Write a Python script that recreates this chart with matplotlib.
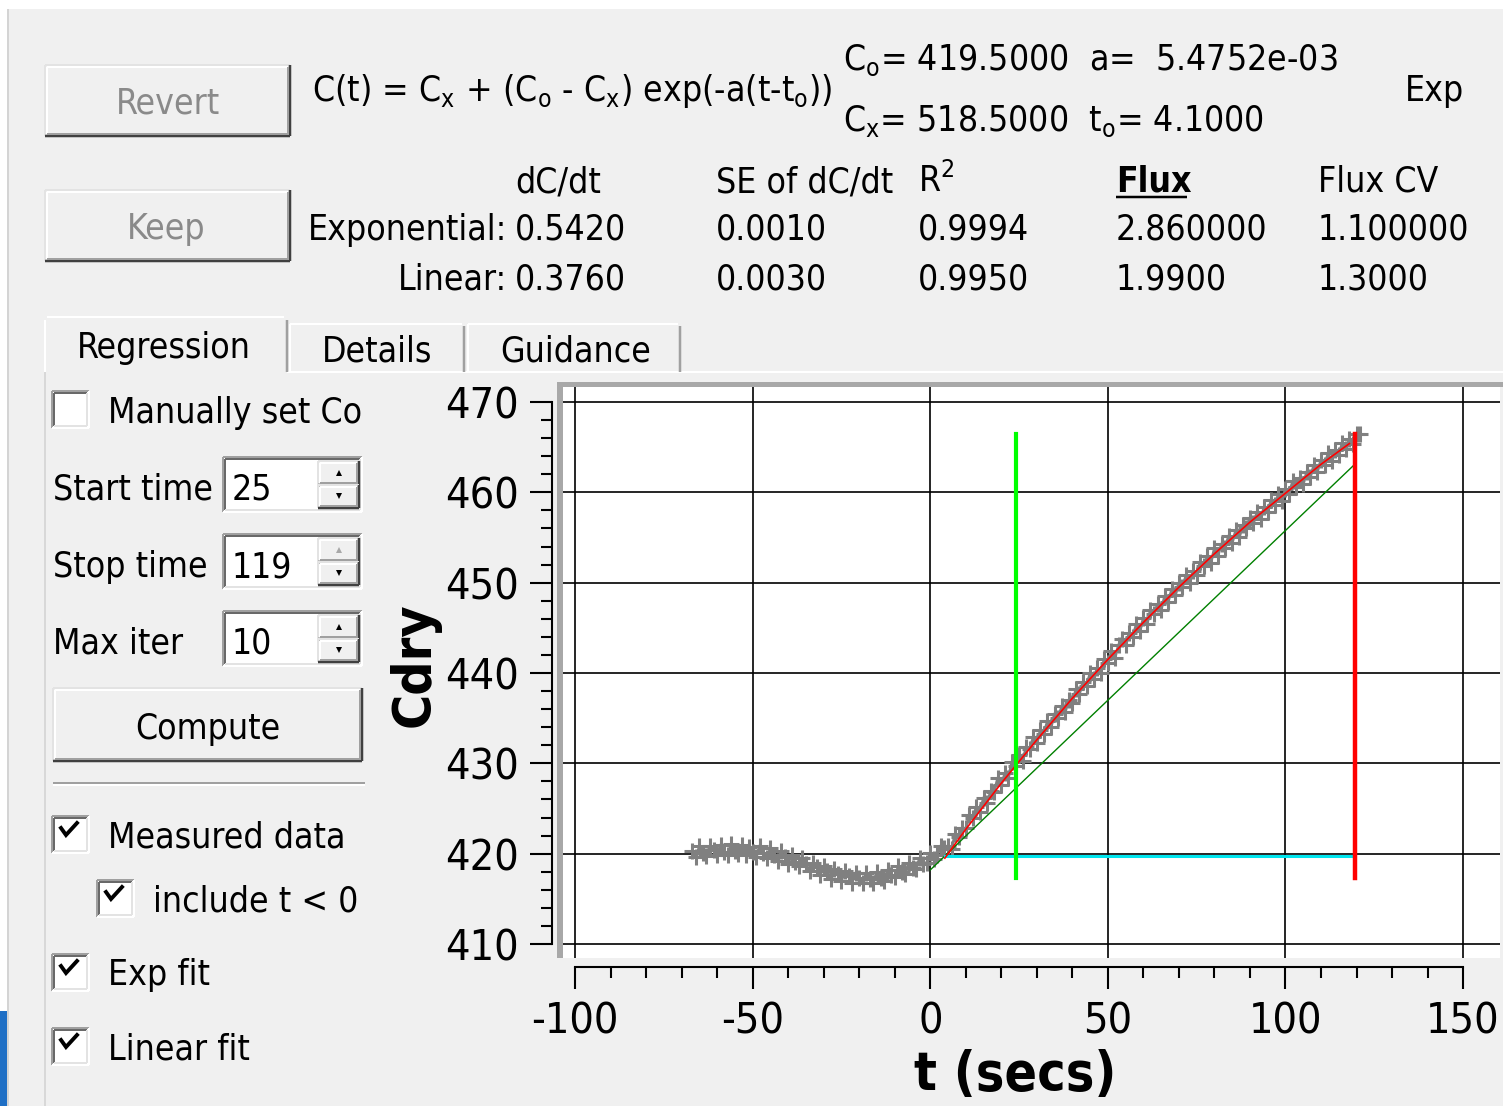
import numpy as np
import matplotlib
matplotlib.use('Agg')
import matplotlib.pyplot as plt
from matplotlib.patches import Rectangle, Polygon
from matplotlib.ticker import FixedLocator

plt.rcParams['font.family'] = ['DejaVu Sans']
plt.rcParams['font.stretch'] = 'condensed'
plt.rcParams['font.size'] = 25.5
plt.rcParams['mathtext.fontset'] = 'dejavusans'
plt.rcParams['axes.unicode_minus'] = False

# ---- chart data ----
# measured Cdry, one sample per second starting at t = -67 s
c_meas = [420.3, 419.6, 420.8, 420.1, 419.7, 420.9, 420.4, 419.8, 421.0, 420.2,
          419.9, 421.1, 420.3, 420.0, 421.0, 419.9, 420.7, 420.2, 419.6, 420.9,
          420.1, 419.5, 420.6, 419.9, 419.2, 420.3, 419.6, 418.9, 419.9, 419.1,
          418.6, 419.5, 418.9, 418.1, 419.0, 418.5, 417.6, 418.6, 418.1, 417.2,
          418.3, 417.8, 417.0, 418.1, 417.5, 416.8, 417.9, 417.3, 416.7, 417.9,
          417.2, 416.8, 418.0, 417.3, 417.0, 418.2, 417.6, 417.4, 418.6, 418.0,
          417.8, 419.0, 418.4, 418.3, 419.5, 418.9, 419.0,
          420.1, 419.4, 419.8, 420.9, 420.6,
          420.9, 420.5, 422.2, 421.8, 422.8, 422.8, 424.3, 424.0, 425.2, 424.6,
          426.2, 425.6, 426.9, 426.8, 428.4, 427.6, 428.9, 428.4, 430.2, 429.7,
          430.9, 430.3, 431.8, 431.6, 432.9, 432.2, 433.7, 433.3, 434.7, 434.0,
          435.5, 435.0, 436.3, 435.7, 437.0, 436.7, 438.2, 437.7, 439.0, 438.6,
          440.0, 439.3, 440.6, 440.0, 441.6, 441.1, 442.4, 441.7, 443.1, 443.8,
          443.1, 444.4, 444.0, 445.4, 444.6, 446.1, 445.4, 447.0, 446.5, 447.6,
          447.0, 448.5, 447.9, 449.3, 448.6, 450.0, 449.5, 450.8, 450.0, 451.3,
          450.9, 452.3, 451.8, 452.9, 452.2, 453.8, 453.0, 454.3, 453.8, 455.2,
          454.4, 455.8, 455.0, 456.4, 456.0, 457.2, 456.6, 457.8, 457.0, 458.4,
          457.8, 459.2, 458.6, 459.8, 459.0, 460.4, 459.8, 461.2, 460.6, 461.6,
          460.9, 462.3, 461.7, 463.0, 462.3, 463.6, 463.0, 464.3, 463.5, 464.7,
          464.1, 465.5, 464.8, 465.9, 465.3, 466.5, 466.5]
t_meas = np.arange(len(c_meas)) - 67

t_exp = [4.1, 10, 20, 30, 40, 50, 60, 70, 80, 90, 100, 110, 118]
c_exp = [419.5, 422.7, 427.8, 432.6, 437.2, 441.5, 445.6, 449.5, 453.2, 456.7,
         459.9, 463.1, 465.4]

t_lin = [0, 119.5]
c_lin = [418.2, 463.1]

t_base = [4.2, 119.6]
c_base = [419.75, 419.75]

t_start, t_stop = 24.2, 119.6
c_marker = [417.3, 466.5]

x_major = [-100, -50, 0, 50, 100, 150]
y_major = [410, 420, 430, 440, 450, 460, 470]

# ---- panel texts ----
col_heads = ['dC/dt', 'SE of dC/dt', 'R$^2$', 'Flux', 'Flux CV']
exp_row = ['0.5420', '0.0010', '0.9994', '2.860000', '1.100000']
lin_row = ['0.3760', '0.0030', '0.9950', '1.9900', '1.3000']
col_x = [515, 716, 918, 1116, 1318]
spin_labels = ['Start time', 'Stop time', 'Max iter']
spin_values = ['25', '119', '10']
check_labels = ['Measured data', 'include t < 0', 'Exp fit', 'Linear fit']

BG = '#f0f0f0'
W, H = 1503, 1106
fig = plt.figure(figsize=(W / 100, H / 100), dpi=100, facecolor=BG)
ui = fig.add_axes([0, 0, 1, 1], zorder=0)
ui.set_xlim(0, W)
ui.set_ylim(H, 0)
ui.axis('off')
ui.set_facecolor(BG)


def seg(x0, y0, x1, y1, c, w):
    ui.plot([x0, x1], [y0, y1], color=c, lw=w * 0.72, solid_capstyle='butt')


def raised(x0, y0, x1, y1):
    ui.add_patch(Rectangle((x0, y0), x1 - x0, y1 - y0, facecolor=BG, edgecolor='none'))
    seg(x0, y0, x1, y0, '#e3e3e3', 2)
    seg(x0, y0, x0, y1, '#e3e3e3', 2)
    seg(x0 + 2, y0 + 2, x1 - 2, y0 + 2, '#ffffff', 2)
    seg(x0 + 2, y0 + 2, x0 + 2, y1 - 2, '#ffffff', 2)
    seg(x0, y1, x1, y1, '#404040', 2.5)
    seg(x1, y0, x1, y1, '#404040', 2.5)
    seg(x0 + 2, y1 - 2, x1 - 2, y1 - 2, '#a0a0a0', 2)
    seg(x1 - 2, y0 + 2, x1 - 2, y1 - 2, '#a0a0a0', 2)


def sunken(x0, y0, x1, y1):
    ui.add_patch(Rectangle((x0, y0), x1 - x0, y1 - y0, facecolor='white', edgecolor='none'))
    seg(x0, y0, x1, y0, '#a0a0a0', 2)
    seg(x0, y0, x0, y1, '#a0a0a0', 2)
    seg(x0 + 2, y0 + 2, x1 - 2, y0 + 2, '#696969', 2)
    seg(x0 + 2, y0 + 2, x0 + 2, y1 - 2, '#696969', 2)
    seg(x0, y1, x1, y1, '#ffffff', 2)
    seg(x1, y0, x1, y1, '#ffffff', 2)
    seg(x0 + 2, y1 - 2, x1 - 2, y1 - 2, '#e3e3e3', 2)
    seg(x1 - 2, y0 + 2, x1 - 2, y1 - 2, '#e3e3e3', 2)


def checkbox(x0, y0, checked):
    sunken(x0, y0, x0 + 37, y0 + 37)
    if checked:
        ui.plot([x0 + 9, x0 + 14, x0 + 25], [y0 + 12, y0 + 19, y0 + 7],
                color='black', lw=2.8, solid_joinstyle='miter')


# window edges
ui.add_patch(Rectangle((0, 0), W, 9, facecolor='white', edgecolor='none'))
ui.add_patch(Rectangle((0, 0), 7, H, facecolor='white', edgecolor='none'))
seg(8, 9, 8, H, '#d4d4d4', 2)
ui.add_patch(Rectangle((0, 1011), 7, H - 1011, facecolor='#1f6fc5', edgecolor='none'))

# top buttons and fit summary
raised(45, 65, 290, 136)
raised(45, 190, 290, 261)
ui.text(168, 114, 'Revert', ha='center', va='baseline', color='#8a8a8a')
ui.text(166, 239, 'Keep', ha='center', va='baseline', color='#8a8a8a')
ui.text(312, 101, r'C(t) = C$_\mathrm{x}$ + (C$_\mathrm{o}$ - C$_\mathrm{x}$) exp(-a(t-t$_\mathrm{o}$))',
        va='baseline')
ui.text(843, 70, r'C$_\mathrm{o}$= 419.5000  a=  5.4752e-03', va='baseline')
ui.text(843, 131, r'C$_\mathrm{x}$= 518.5000  t$_\mathrm{o}$= 4.1000', va='baseline')
ui.text(1405, 101, 'Exp', va='baseline')

for x, head in zip(col_x, col_heads):
    bold = 'bold' if head == 'Flux' else 'normal'
    ui.text(x, 192, head, va='baseline', fontweight=bold)
seg(col_x[3], 197, col_x[3] + 71, 197, 'black', 2.5)
ui.text(507, 240, 'Exponential:', ha='right', va='baseline')
ui.text(507, 289, 'Linear:', ha='right', va='baseline')
for x, v1, v2 in zip(col_x, exp_row, lin_row):
    ui.text(x, 240, v1, va='baseline')
    ui.text(x, 289, v2, va='baseline')

# tabs
seg(287, 372, W, 372, '#ffffff', 2)
seg(45, 372, 45, H, '#d8d8d8', 2)
for x0, x1, top in [(290, 464, 324), (468, 680, 324)]:
    seg(x0, top, x1 - 2, top, '#ffffff', 2)
    seg(x0, top, x0, 372, '#ffffff', 2)
    seg(x1, top + 2, x1, 372, '#a0a0a0', 2.5)
ui.add_patch(Polygon([(45, 372), (45, 320), (48, 317), (284, 317), (287, 320), (287, 372)],
                     closed=True, facecolor=BG, edgecolor='none'))
seg(45, 320, 45, 372, '#ffffff', 2)
seg(47, 317, 284, 317, '#ffffff', 2)
seg(287, 320, 287, 372, '#a0a0a0', 2.5)
ui.text(164, 358, 'Regression', ha='center', va='baseline')
ui.text(377, 361, 'Details', ha='center', va='baseline')
ui.text(576, 361, 'Guidance', ha='center', va='baseline')

# left controls
checkbox(52, 391, False)
ui.text(108, 423, 'Manually set Co', va='baseline')
for i, (lab, val) in enumerate(zip(spin_labels, spin_values)):
    y0 = 457 + 77 * i
    y1 = y0 + 55
    ui.text(53, y0 + 43, lab, va='baseline')
    sunken(223, y0, 362, y1)
    ui.text(232, y0 + 43, val, va='baseline')
    ym = (y0 + y1) / 2
    raised(318, y0 + 4, 359, ym)
    raised(318, ym, 359, y1 - 4)
    up_col = '#a8a8a8' if val == '119' else 'black'
    ui.plot(338.5, (y0 + 4 + ym) / 2, marker='^', ms=4.5, color=up_col, mew=0)
    ui.plot(338.5, (ym + y1 - 4) / 2, marker='v', ms=4.5, color='black', mew=0)
raised(53, 688, 362, 761)
ui.text(208, 739, 'Compute', ha='center', va='baseline')
seg(53, 783, 365, 783, '#a0a0a0', 2)
seg(53, 785, 365, 785, '#ffffff', 2)
for (bx, by, tx), lab in zip([(52, 816, 108), (97, 880, 153), (52, 954, 108), (52, 1028, 108)],
                             check_labels):
    checkbox(bx, by, True)
    ui.text(tx, by + 31, lab, va='baseline')

# plot frame (sunken grey border)
ui.add_patch(Rectangle((557, 382), 6, 576, facecolor='#a8a8a8', edgecolor='none'))
ui.add_patch(Rectangle((557, 382), W - 557, 5, facecolor='#a8a8a8', edgecolor='none'))

# axis titles
ui.text(1015, 1075, 't (secs)', ha='center', va='center', fontsize=38.5, fontweight='bold')
ui.text(415, 665, 'Cdry', ha='center', va='center', fontsize=38.5, fontweight='bold',
        rotation=90)

# ---- the chart ----
ax = fig.add_axes([563 / W, 1 - 958 / H, 937 / W, 571 / H], zorder=1)
ax.set_facecolor('white')
ax.set_xlim(-103.4, 160.4)
ax.set_ylim(408.45, 471.66)

ax.plot(t_meas, c_meas, color='#808080', lw=2.0, marker='+', ms=11, mew=2.2, zorder=3)
ax.plot(t_lin, c_lin, color='#008000', lw=1.0, zorder=4)
ax.plot(t_exp, c_exp, color='red', lw=1.2, zorder=5)
ax.plot(t_base, c_base, color='#00e5ee', lw=2.2, zorder=4)
ax.plot([t_start, t_start], c_marker, color='#00ff00', lw=3.0, zorder=6)
ax.plot([t_stop, t_stop], c_marker, color='#ff0000', lw=3.2, zorder=6)

ax.xaxis.set_major_locator(FixedLocator(x_major))
ax.yaxis.set_major_locator(FixedLocator(y_major))
ax.xaxis.set_minor_locator(FixedLocator([v for v in np.arange(-90, 150, 10) if v % 50]))
ax.yaxis.set_minor_locator(FixedLocator([v for v in np.arange(412, 470, 2) if v % 10]))
ax.grid(True, which='major', color='black', lw=1.2)

for side in ['top', 'right']:
    ax.spines[side].set_visible(False)
ax.spines['bottom'].set_position(('outward', 6.5))
ax.spines['left'].set_position(('outward', 7.9))
ax.spines['bottom'].set_bounds(-100, 150)
ax.spines['left'].set_bounds(410, 470)
for side in ['bottom', 'left']:
    ax.spines[side].set_linewidth(1.5)
ax.tick_params(which='major', length=15.8, width=1.5, direction='out', pad=8, labelsize=31)
ax.tick_params(which='minor', length=8.2, width=1.5, direction='out')

fig.savefig('out.png', dpi=100, facecolor=BG)
